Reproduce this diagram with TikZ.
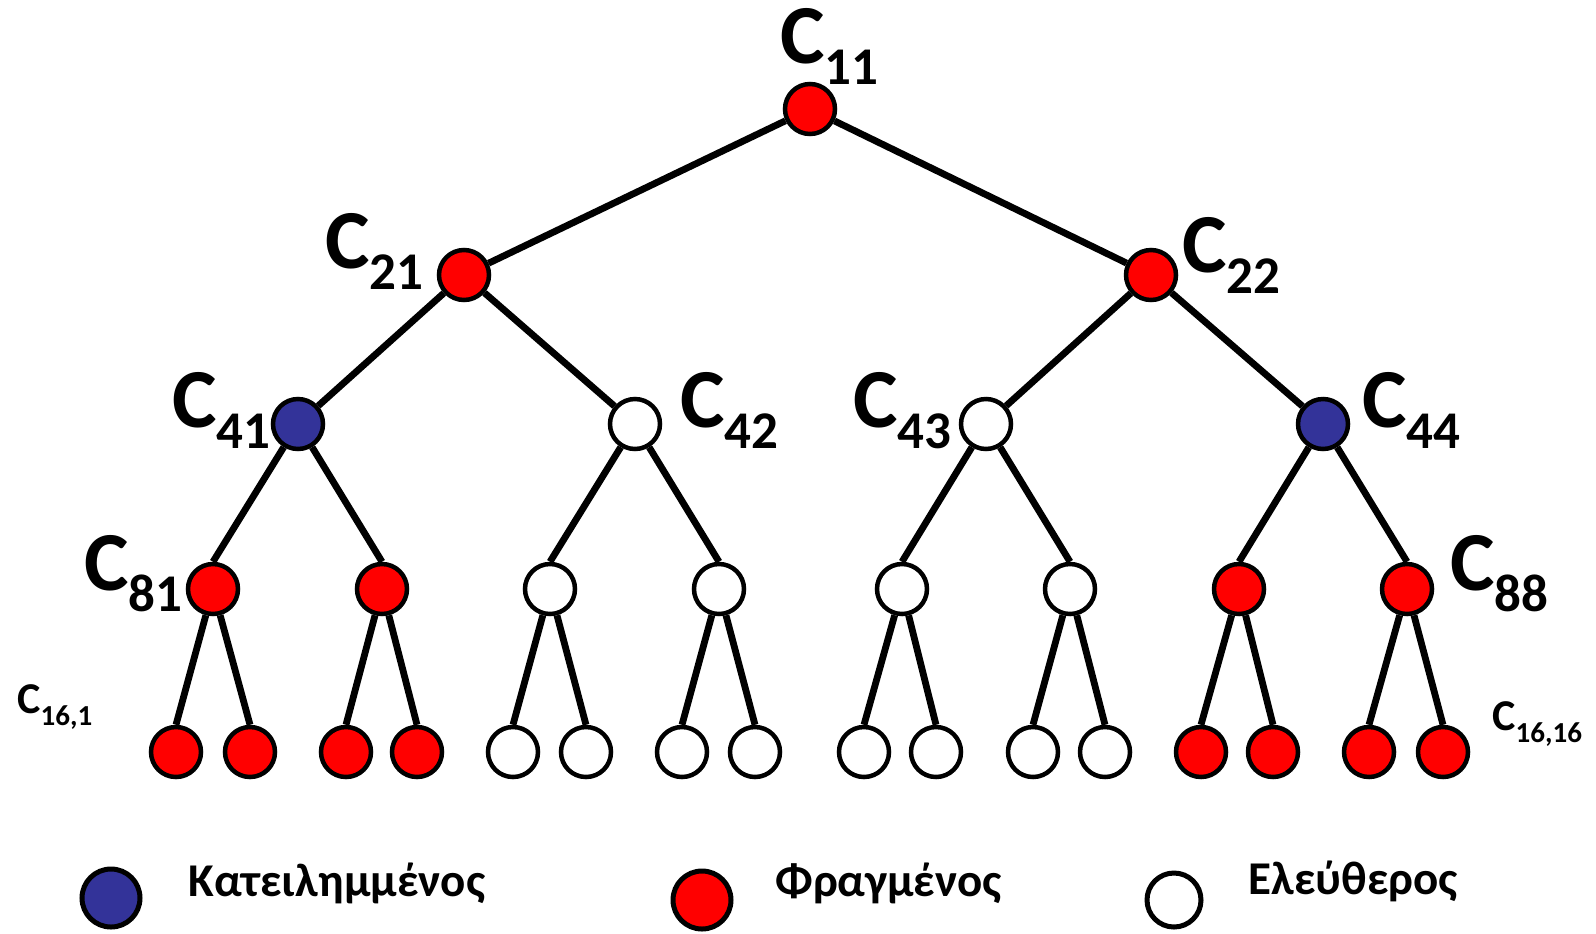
\documentclass[tikz,border=0pt]{standalone}
\usepackage{fontspec}
\setmainfont{Carlito}
\definecolor{busyfill}{RGB}{51,51,153}
\definecolor{blockfill}{RGB}{255,0,0}
% label "C" with a lowered index
\newcommand\cname[1]{{\fontsize{42pt}{42pt}\selectfont C}\raisebox{-10.5pt}{\fontsize{26.5pt}{26.5pt}\selectfont #1}}
\newcommand\cnamesmall[1]{{\fontsize{22pt}{22pt}\selectfont C}\raisebox{-6pt}{\fontsize{14.5pt}{14.5pt}\selectfont #1}}
\begin{document}
\begin{tikzpicture}[x=0.5pt,y=-0.5pt,
  cell/.style={circle,draw=black,line width=2.25pt,minimum size=25pt,inner sep=0pt},
  busycell/.style={cell,fill=busyfill},
  blockcell/.style={cell,fill=blockfill},
  freecell/.style={cell,fill=white},
  legcell/.style={circle,draw=black,line width=2.5pt,minimum size=29pt,inner sep=0pt},
  edge/.style={draw=black,line width=3.4pt},
  lbl/.style={anchor=base west,inner sep=0pt,font=\bfseries},
  legtext/.style={anchor=base west,inner sep=0pt,font=\bfseries\fontsize{23.5pt}{23.5pt}\selectfont}
]
\path[use as bounding box,fill=white] (0,0) rectangle (1596,933);

% upper levels
\node[blockcell] (c11) at (810,109) {};
\node[blockcell] (c21) at (464,275) {};
\node[blockcell] (c22) at (1151,275) {};
\node[busycell]  (c41) at (298,424) {};
\node[freecell]  (c42) at (635,424) {};
\node[freecell]  (c43) at (986,424) {};
\node[busycell]  (c44) at (1323,424) {};

% level with eight cells
\foreach \i/\x/\s in {1/213/blockcell,2/382/blockcell,3/550/freecell,4/719/freecell,
                      5/902/freecell,6/1070/freecell,7/1239/blockcell,8/1407/blockcell}
  \node[\s] (e\i) at (\x,589) {};

% leaves
\foreach \i/\x/\s in {1/176/blockcell,2/250/blockcell,3/346/blockcell,4/417/blockcell,
                      5/513/freecell,6/586/freecell,7/682/freecell,8/755/freecell,
                      9/864/freecell,10/936/freecell,11/1033/freecell,12/1105/freecell,
                      13/1201/blockcell,14/1273/blockcell,15/1369/blockcell,16/1443/blockcell}
  \node[\s] (l\i) at (\x,752) {};

% connectors
\draw[edge] (c11) -- (c21);
\draw[edge] (c11) -- (c22);
\draw[edge] (c21) -- (c41);
\draw[edge] (c21) -- (c42);
\draw[edge] (c22) -- (c43);
\draw[edge] (c22) -- (c44);
\foreach \i/\p in {1/41,2/41,3/42,4/42,5/43,6/43,7/44,8/44}
  \draw[edge] (c\p) -- (e\i.north);
\foreach \i in {1,...,16}{
  \pgfmathtruncatemacro\p{(\i+1)/2}
  \draw[edge] (e\p) -- (l\i.north);
}

% labels
\node[lbl] (t11) at (780,63)  {\cname{11}};
\node[lbl] (t21) at (325,268) {\cname{21}};
\node[lbl] (t22) at (1182,272) {\cname{22}};
\node[lbl] (t41) at (172,427) {\cname{41}};
\node[lbl] (t42) at (680,427) {\cname{42}};
\node[lbl] (t43) at (853,427) {\cname{43}};
\node[lbl] (t44) at (1362,427) {\cname{44}};
\node[lbl] (t81) at (84,590)  {\cname{81}};
\node[lbl] (t88) at (1450,590) {\cname{88}};
\node[lbl] (t161) at (17,713) {\cnamesmall{16,1}};
\node[lbl] (t1616) at (1492,730) {\cnamesmall{16,16}};

% legend
\node[legcell,fill=busyfill] (k1) at (111,898) {};
\node[legtext] (k1t) at (188,896) {Κατειλημμένος};
\node[legcell,fill=blockfill] (k2) at (702,900) {};
\node[legtext] (k2t) at (775,896) {Φραγμένος};
\node[legcell,fill=white,minimum size=27pt] (k3) at (1174,900) {};
\node[legtext] (k3t) at (1248,894) {Ελεύθερος};
\end{tikzpicture}
\end{document}
